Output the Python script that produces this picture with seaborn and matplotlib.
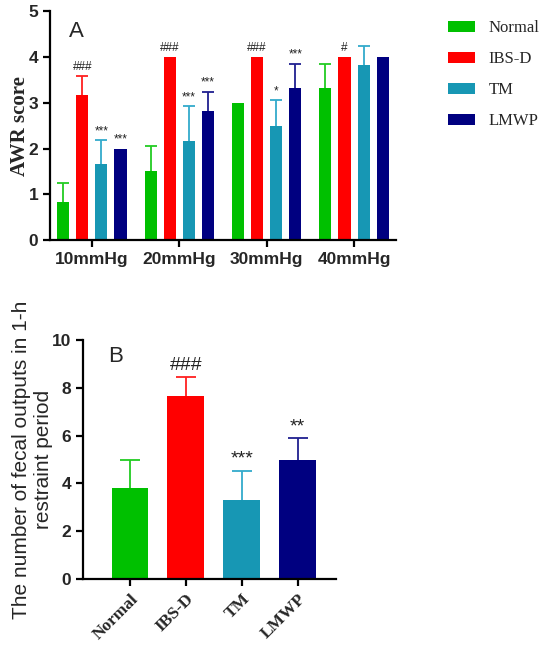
import numpy as np
import pandas as pd
import matplotlib
matplotlib.use('Agg')
import matplotlib.pyplot as plt
import seaborn as sns
from matplotlib.patches import Patch

sns.set_theme(style='ticks')
plt.rcParams['font.family'] = ['Liberation Sans', 'DejaVu Sans']

# ---- data ----
groups = ['Normal', 'IBS-D', 'TM', 'LMWP']
colors = ['#00c000', '#ff0000', '#1797b4', '#000080']
err_colors = ['#22cc22', '#ff2020', '#33aacc', '#202090']
pressures = ['10mmHg', '20mmHg', '30mmHg', '40mmHg']

awr_normal = [0.83, 1.50, 3.00, 3.33]
awr_ibsd = [3.17, 4.00, 4.00, 4.00]
awr_tm = [1.67, 2.17, 2.50, 3.83]
awr_lmwp = [2.00, 2.83, 3.33, 4.00]
awr_err_normal = [0.42, 0.55, 0.00, 0.52]
awr_err_ibsd = [0.41, 0.00, 0.00, 0.00]
awr_err_tm = [0.51, 0.75, 0.55, 0.41]
awr_err_lmwp = [0.00, 0.41, 0.52, 0.00]
awr_marks_normal = ['', '', '', '']
awr_marks_ibsd = ['###', '###', '###', '#']
awr_marks_tm = ['***', '***', '*', '']
awr_marks_lmwp = ['***', '***', '***', '']

fecal_values = [3.83, 7.67, 3.33, 5.00]
fecal_err = [1.17, 0.80, 1.21, 0.90]
fecal_marks = ['', '###', '***', '**']


def up_errorbar(ax, x, h, e, color, capsize):
    # one-sided (upper) error bar, no cap at the bar top
    _, caps, _ = ax.errorbar(x, h, yerr=[[0], [e]], fmt='none', ecolor=color,
                             elinewidth=1.3, capsize=capsize, capthick=1.3)
    caps[0].set_visible(False)


# ---- figure ----
fig = plt.figure(figsize=(5.5, 6.58), dpi=100)
axA = fig.add_axes([0.0909, 0.635, 0.629, 0.348])
axB = fig.add_axes([0.151, 0.120, 0.460, 0.363])

# Panel A
awr_vals = [awr_normal, awr_ibsd, awr_tm, awr_lmwp]
awr_errs = [awr_err_normal, awr_err_ibsd, awr_err_tm, awr_err_lmwp]
awr_marks = [awr_marks_normal, awr_marks_ibsd, awr_marks_tm, awr_marks_lmwp]
df_a = pd.DataFrame({
    'pressure': np.tile(pressures, len(groups)),
    'group': np.repeat(groups, len(pressures)),
    'score': np.concatenate(awr_vals),
})
sns.barplot(data=df_a, x='pressure', y='score', hue='group', hue_order=groups,
            order=pressures, palette=colors, width=0.872, gap=0.367,
            saturation=1, errorbar=None, legend=False, linewidth=0, ax=axA)
bar_sets = list(axA.containers)
for gi, cont in enumerate(bar_sets):
    for pi, bar in enumerate(cont.patches):
        cx = bar.get_x() + bar.get_width() / 2
        h = bar.get_height()
        e = awr_errs[gi][pi]
        if e > 0:
            up_errorbar(axA, cx, h, e, err_colors[gi], 4)
        m = awr_marks[gi][pi]
        if m:
            axA.text(cx, h + e + 0.07, m, ha='center', va='bottom', fontsize=8.5,
                     color='#222222')
axA.set_xlim(-0.48, 3.48)
axA.set_ylim(0, 5)
axA.set_yticks([0, 1, 2, 3, 4, 5])
axA.set_xlabel('')
axA.set_ylabel('AWR score', family='Liberation Serif', fontweight='bold', fontsize=15,
               labelpad=-1)
axA.text(0.055, 0.91, 'A', transform=axA.transAxes, fontsize=16, va='center')

handles = [Patch(facecolor=c, edgecolor='none') for c in colors]
fig.legend(handles, groups, loc='upper left', bbox_to_anchor=(0.788, 0.992),
           frameon=False, prop={'family': 'Liberation Serif', 'size': 12},
           handlelength=1.6, handleheight=0.7, labelspacing=0.9, handletextpad=0.8)

# Panel B
df_b = pd.DataFrame({'group': groups, 'count': fecal_values})
sns.barplot(data=df_b, x='group', y='count', hue='group', palette=colors,
            width=0.66, saturation=1, errorbar=None, legend=False, linewidth=0, ax=axB)
for gi, bar in enumerate(list(axB.patches)):
    cx = bar.get_x() + bar.get_width() / 2
    h = bar.get_height()
    up_errorbar(axB, cx, h, fecal_err[gi], err_colors[gi], 7)
    if fecal_marks[gi]:
        axB.text(cx, h + fecal_err[gi] + 0.12, fecal_marks[gi], ha='center', va='bottom',
                 fontsize=14, color='#222222')
axB.set_xlim(-0.84, 3.69)
axB.set_ylim(0, 10)
axB.set_yticks([0, 2, 4, 6, 8, 10])
axB.set_xlabel('')
axB.set_ylabel('The number of fecal outputs in 1-h\nrestraint period', fontsize=15,
               labelpad=-1)
axB.text(0.10, 0.93, 'B', transform=axB.transAxes, fontsize=16, va='center')
axB.set_xticks(range(len(groups)))
axB.set_xticklabels(groups, rotation=45, ha='right', rotation_mode='anchor',
                    family='Liberation Serif', fontweight='bold', fontsize=15)

for ax in (axA, axB):
    sns.despine(ax=ax)
    for s in ('left', 'bottom'):
        ax.spines[s].set_linewidth(1.6)
        ax.spines[s].set_color('black')
    ax.tick_params(width=1.6, length=5, color='black', labelsize=12.5)
    for lab in ax.get_yticklabels():
        lab.set_fontweight('bold')
for lab in axA.get_xticklabels():
    lab.set_fontweight('bold')

fig.savefig('out.png', dpi=100)
